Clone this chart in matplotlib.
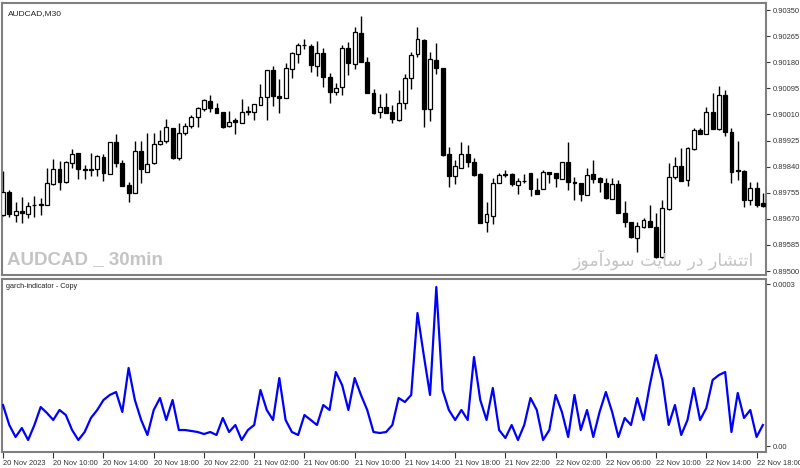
import matplotlib
matplotlib.use('Agg')
import matplotlib.pyplot as plt
import numpy as np

# ---- data (prices in units of 1e-5) ----
opens = [89682, 89757, 89682, 89695, 89686, 89715, 89715, 89715, 89783, 89832,
         89790, 89852, 89885, 89832, 89832, 89832, 89871, 89816, 89920, 89852,
         89780, 89754, 89891, 89822, 89852, 89914, 89924, 89966, 89868, 89949,
         89972, 90002, 90028, 90054, 90031, 90018, 89972, 89992, 89982, 90021,
         90018, 90041, 90067, 90155, 90070, 90063, 90158, 90207, 90236, 90233,
         90168, 90210, 90132, 90083, 90099, 90226, 90174, 90276, 90181, 90080,
         90018, 90034, 90018, 89992, 90047, 90129, 90207, 90252, 90028, 90187,
         90161, 89881, 89809, 89835, 89881, 89855, 89816, 89660, 89679, 89787,
         89816, 89816, 89780, 89793, 89819, 89764, 89767, 89822, 89819, 89800,
         89855, 89790, 89787, 89748, 89816, 89803, 89787, 89735, 89783, 89689,
         89660, 89607, 89643, 89663, 89643, 89546, 89702, 89806, 89842, 89796,
         89897, 89959, 89946, 90018, 89962, 90073, 89953, 89829, 89826, 89731,
         89770, 89722]
highs = [89826, 89764, 89725, 89741, 89725, 89744, 89738, 89835, 89865, 89858,
         89858, 89897, 89885, 89845, 89885, 89878, 89881, 89920, 89946, 89862,
         89790, 89924, 89924, 89949, 89949, 89959, 89995, 89966, 89982, 89982,
         90008, 90034, 90060, 90073, 90047, 90018, 90021, 89998, 90060, 90037,
         90044, 90109, 90155, 90168, 90125, 90177, 90213, 90243, 90256, 90239,
         90249, 90226, 90145, 90112, 90236, 90246, 90295, 90330, 90197, 90093,
         90077, 90080, 90041, 90090, 90142, 90213, 90295, 90256, 90213, 90243,
         90161, 89904, 89862, 89920, 89910, 89868, 89819, 89725, 89803, 89819,
         89829, 89819, 89803, 89816, 89819, 89803, 89829, 89822, 89819, 89855,
         89920, 89806, 89787, 89835, 89862, 89806, 89803, 89803, 89796, 89728,
         89660, 89660, 89673, 89715, 89689, 89731, 89852, 89871, 89901, 89904,
         89966, 89966, 90034, 90080, 90102, 90090, 89966, 89924, 89829, 89790,
         89790, 89754]
lows = [89679, 89676, 89660, 89656, 89673, 89676, 89682, 89715, 89780, 89764,
        89787, 89835, 89800, 89800, 89809, 89809, 89793, 89816, 89839, 89777,
        89725, 89754, 89787, 89822, 89848, 89910, 89917, 89865, 89862, 89943,
        89966, 89969, 90021, 90018, 90015, 89966, 89969, 89946, 89982, 90008,
        89992, 90041, 89992, 90037, 90015, 90063, 90129, 90177, 90223, 90148,
        90135, 90099, 90047, 90073, 90073, 90138, 90158, 90181, 90080, 90011,
        89998, 90015, 89982, 89988, 90028, 90093, 90197, 89969, 89988, 90142,
        89875, 89774, 89783, 89835, 89839, 89809, 89656, 89627, 89653, 89787,
        89806, 89777, 89751, 89787, 89744, 89751, 89767, 89787, 89774, 89800,
        89764, 89731, 89728, 89748, 89787, 89757, 89735, 89735, 89689, 89643,
        89607, 89562, 89640, 89643, 89543, 89543, 89699, 89800, 89793, 89777,
        89894, 89946, 89946, 89962, 89959, 89940, 89787, 89796, 89709, 89715,
        89709, 89709]
closes = [89757, 89686, 89695, 89689, 89712, 89714, 89718, 89787, 89832, 89790,
          89855, 89881, 89832, 89829, 89830, 89875, 89819, 89920, 89852, 89777,
          89754, 89891, 89832, 89848, 89914, 89924, 89969, 89868, 89949, 89972,
          90002, 90031, 90057, 90031, 90015, 89969, 89985, 89985, 90018, 90018,
          90044, 90067, 90155, 90070, 90063, 90161, 90210, 90236, 90235, 90171,
          90210, 90132, 90083, 90096, 90226, 90177, 90279, 90181, 90080, 90015,
          90034, 90015, 89995, 90047, 90129, 90203, 90256, 90028, 90190, 90161,
          89878, 89809, 89842, 89881, 89855, 89813, 89656, 89686, 89787, 89813,
          89813, 89783, 89793, 89792, 89767, 89751, 89822, 89816, 89803, 89855,
          89790, 89788, 89751, 89813, 89800, 89790, 89738, 89783, 89689, 89660,
          89611, 89647, 89666, 89643, 89546, 89705, 89806, 89842, 89793, 89901,
          89959, 89946, 90018, 89962, 90073, 89953, 89822, 89826, 89731, 89770,
          89715, 89712]

# garch indicator values (units of 1e-5)
garch = [7.59, 3.89, 1.67, 3.33, 1.11, 3.89, 7.22, 6.11, 4.82, 6.67,
         5.74, 2.96, 1.11, 2.59, 5.19, 6.67, 8.52, 9.45, 10.0, 6.30,
         14.45, 8.52, 4.82, 2.04, 6.67, 8.89, 4.82, 8.52, 2.96, 2.96,
         2.78, 2.59, 2.22, 2.59, 2.04, 5.19, 2.59, 3.89, 1.11, 2.96,
         3.89, 10.37, 6.67, 4.82, 12.59, 4.82, 2.59, 2.04, 5.74, 4.82,
         3.89, 7.59, 6.67, 13.70, 11.30, 6.67, 12.59, 9.45, 6.67, 2.59,
         2.41, 2.59, 3.89, 8.89, 8.15, 9.45, 24.63, 16.85, 9.45, 29.45,
         10.37, 6.67, 4.82, 6.67, 4.82, 16.48, 8.52, 4.82, 10.74, 2.96,
         1.48, 3.89, 1.11, 3.89, 8.89, 6.67, 1.11, 2.96, 9.45, 6.30,
         1.67, 9.45, 2.96, 6.67, 1.67, 6.30, 10.0, 6.30, 1.67, 5.19,
         3.89, 8.89, 4.82, 11.30, 16.85, 12.22, 3.89, 7.59, 2.04, 4.82,
         10.74, 4.82, 7.04, 12.22, 13.15, 13.70, 2.59, 9.82, 5.19, 6.67,
         1.67, 3.89]

price_ticks = [0.89500, 0.89585, 0.89670, 0.89755, 0.89840, 0.89925,
               0.90010, 0.90095, 0.90180, 0.90265, 0.90350]
time_labels = ["20 Nov 2023", "20 Nov 10:00", "20 Nov 14:00", "20 Nov 18:00",
               "20 Nov 22:00", "21 Nov 02:00", "21 Nov 06:00", "21 Nov 10:00",
               "21 Nov 14:00", "21 Nov 18:00", "21 Nov 22:00", "22 Nov 02:00",
               "22 Nov 06:00", "22 Nov 10:00", "22 Nov 14:00", "22 Nov 18:00"]
label_every = 8

o = np.array(opens) / 1e5
h = np.array(highs) / 1e5
l = np.array(lows) / 1e5
c = np.array(closes) / 1e5
g = np.array(garch) * 1e-5
x = np.arange(len(o))

plt.rcParams['font.family'] = ['Liberation Sans', 'DejaVu Sans']

fig = plt.figure(figsize=(8, 4.68), dpi=100)
ax = fig.add_axes([0.0025, 0.4124, 0.955, 0.5812])
ax2 = fig.add_axes([0.0025, 0.0342, 0.955, 0.3696])

frame = '#7f7f7f'
for a in (ax, ax2):
    for s in a.spines.values():
        s.set_color(frame)
        s.set_linewidth(1.5)

# candles
ax.vlines(x, l, h, color='black', lw=1.0, zorder=2)
up = c >= o
bottom = np.minimum(o, c)
height = np.maximum(np.abs(c - o), 0.000008)
ax.bar(x[up], height[up], bottom=bottom[up], width=0.62,
       facecolor='white', edgecolor='black', linewidth=0.9, zorder=3)
ax.bar(x[~up], height[~up], bottom=bottom[~up], width=0.62,
       facecolor='black', edgecolor='black', linewidth=0.9, zorder=3)

ax.set_xlim(-0.16, 121.5)
ax.set_ylim(0.89487, 0.90373)
ax.yaxis.tick_right()
ax.set_yticks(price_ticks)
ax.set_yticklabels([f"{p:.5f}" for p in price_ticks])
ax.tick_params(axis='y', direction='out', length=3, width=0.8, colors='#333333',
               labelsize=5.4, pad=2)
ax.set_xticks([])

ax.text(0.008, 0.963, "AUDCAD,M30", transform=ax.transAxes, fontsize=6,
        color='#222222', va='center', ha='left')
ax.text(0.007, 0.058, "AUDCAD _ 30min", transform=ax.transAxes, fontsize=13.5,
        fontweight='bold', color='#c4c4c4', va='center', ha='left')
# "انتشار در سایت سودآموز" written in shaped visual order
persian = "\uFEAF\uFEEE\uFEE3\uFE81\uFEA9\uFEEE\uFEB3 \uFE96\uFBFE\uFE8E\uFEB3 \uFEAD\uFEA9 \uFEAD\uFE8E\uFEB8\uFE98\uFE97\uFE8D"
ax.text(0.984, 0.058, persian, transform=ax.transAxes, fontsize=12.5,
        family=['DejaVu Sans'], color='#c4c4c4', va='center', ha='right')

# indicator
ax2.plot(x, g, color='#0000ff', lw=1.6, zorder=3)
ax2.set_xlim(-0.16, 121.5)
ax2.set_ylim(-1.11e-5, 3.093e-4)
ax2.yaxis.tick_right()
ax2.set_yticks([0.0, 0.0003])
ax2.set_yticklabels(["0.00", "0.0003"])
ax2.tick_params(axis='y', direction='out', length=3, width=0.8, colors='#333333',
                labelsize=5.4, pad=2)
ticks_x = x[::label_every][:len(time_labels)]
ax2.set_xticks(ticks_x)
ax2.set_xticklabels(time_labels)
ax2.tick_params(axis='x', direction='out', length=4, width=0.8, colors='#333333',
                labelsize=5.4, pad=1.5)
for lab in ax2.get_xticklabels():
    lab.set_ha('left')
ax2.text(0.005, 0.955, "garch-indicator - Copy", transform=ax2.transAxes,
         fontsize=5.2, color='#222222', va='center', ha='left')

fig.savefig('out.png', dpi=100)
